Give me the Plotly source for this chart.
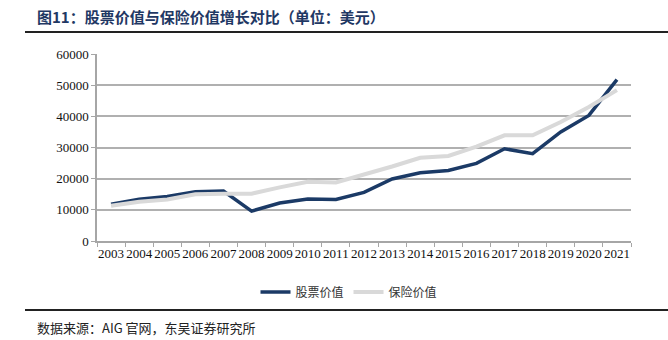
import plotly.graph_objects as go

years = [str(y) for y in range(2003, 2022)]
stock_value = [11800, 13400, 14300, 15800, 16000, 9600, 12200, 13500, 13300, 15600,
               19900, 21900, 22600, 24900, 29600, 28000, 35000, 40300, 51800]
insurance_value = [11300, 12600, 13300, 15000, 15200, 15200, 17200, 19000, 18800, 21200,
                   23900, 26700, 27300, 30300, 33900, 33900, 38200, 43000, 48400]
y_ticks = [0, 10000, 20000, 30000, 40000, 50000, 60000]

title_text = "图11：股票价值与保险价值增长对比（单位：美元）"
source_text = "数据来源：AIG 官网，东吴证券研究所"
series_names = ["股票价值", "保险价值"]

CJK = "Noto Sans CJK SC"
SERIF = "Liberation Serif"

fig = go.Figure()
fig.add_trace(go.Scatter(x=years, y=stock_value, mode="lines", name=series_names[0],
                         line=dict(color="#1b3a66", width=3.5)))
fig.add_trace(go.Scatter(x=years, y=insurance_value, mode="lines", name=series_names[1],
                         line=dict(color="#d9d9d9", width=4)))

L, R, T, B = 97, 37, 54, 99
W, H = 668, 340
pw, ph = W - L - R, H - T - B

def px(x):
    return (x - L) / pw

def py(y):
    return (H - B - y) / ph

fig.update_layout(
    width=W, height=H,
    margin=dict(l=L, r=R, t=T, b=B, pad=0),
    paper_bgcolor="white", plot_bgcolor="white",
    showlegend=True,
    legend=dict(orientation="h", x=px(349), xanchor="center", y=py(292), yanchor="middle",
                font=dict(family=CJK, size=12, color="#333"),
                itemwidth=30, traceorder="normal", bgcolor="rgba(0,0,0,0)"),
    xaxis=dict(type="category", tickson="boundaries", ticks="outside", ticklen=4,
               tickcolor="#a6a6a6", showline=True, linecolor="#a6a6a6", linewidth=1.5,
               showgrid=False, tickangle=0,
               tickfont=dict(family=SERIF, size=13, color="#111"),
               range=[-0.5, len(years) - 0.5], fixedrange=True),
    yaxis=dict(range=[0, 60000], tickvals=y_ticks, ticktext=[str(v) for v in y_ticks],
               ticks="outside", ticklen=4, tickcolor="#a6a6a6",
               showline=True, linecolor="#a6a6a6", linewidth=1.5,
               showgrid=True, gridcolor="#b0b0b0", gridwidth=1.5, zeroline=False,
               tickfont=dict(family=SERIF, size=13, color="#111"), fixedrange=True),
    shapes=[
        dict(type="line", xref="paper", yref="paper", x0=px(25), x1=px(668),
             y0=py(32), y1=py(32), line=dict(color="#222", width=2)),
        dict(type="line", xref="paper", yref="paper", x0=px(25), x1=px(668),
             y0=py(310), y1=py(310), line=dict(color="#222", width=2)),
    ],
    annotations=[
        dict(text="<b>" + title_text + "</b>", xref="paper", yref="paper",
             x=px(35), y=py(16), xanchor="left", yanchor="middle", showarrow=False,
             font=dict(family=CJK, size=15, color="#1f3864")),
        dict(text=source_text, xref="paper", yref="paper",
             x=px(35), y=py(327), xanchor="left", yanchor="middle", showarrow=False,
             font=dict(family=CJK, size=13, color="#222")),
    ],
)

fig.write_html("out.html")
